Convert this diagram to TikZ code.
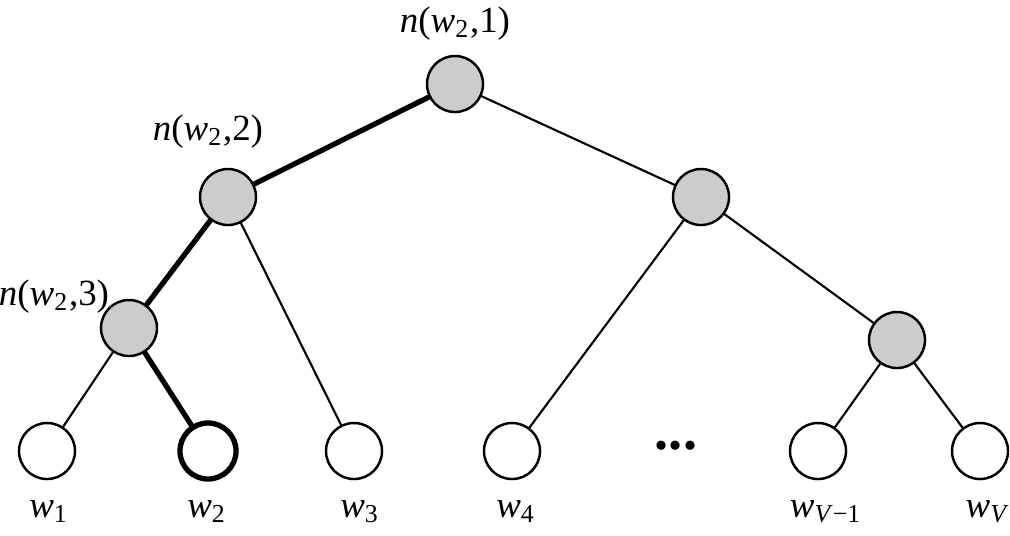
\documentclass[tikz,border=0pt]{standalone}
\usepackage{fontspec}
\setmainfont{Liberation Serif}
\begin{document}
\begin{tikzpicture}[x=0.01cm, y=-0.01cm, font=\fontsize{10.5}{12}\selectfont, line join=round, line cap=round,
	inner/.style={circle, draw, fill=black!20, minimum size=0.56cm, inner sep=0pt, line width=0.7pt},
	leaf/.style={circle, draw, fill=white, minimum size=0.56cm, inner sep=0pt, line width=0.7pt},
	link/.style={line width=0.6pt},
	hot/.style={line width=1.5pt},
	lab/.style={anchor=base, inner sep=0pt}]
		\useasboundingbox (0,0) rectangle (1010,535);
		% inner nodes
		\node[inner] (r) at (455,84) {};
		\node[inner] (a) at (228,197) {};
		\node[inner] (b) at (701,197) {};
		\node[inner] (c) at (129,328) {};
		\node[inner] (d) at (897,340) {};
		% leaves
		\node[leaf] (w1) at (47,451) {};
		\node[leaf, line width=1.5pt] (w2) at (208,451) {};
		\node[leaf] (w3) at (354,451) {};
		\node[leaf] (w4) at (512,451) {};
		\node[leaf] (wv1) at (818,451) {};
		\node[leaf] (wv) at (980,451) {};
		\node[lab, font=\fontsize{16}{18}\selectfont] (dots) at (676,449) {\textbf{...}};
		% edges
		\draw[hot] (r)--(a);
		\draw[hot] (a)--(c);
		\draw[hot] (c)--(w2);
		\draw[link] (r)--(b);
		\draw[link] (a)--(w3);
		\draw[link] (c)--(w1);
		\draw[link] (b)--(w4);
		\draw[link] (b)--(d);
		\draw[link] (d)--(wv1);
		\draw[link] (d)--(wv);
		% labels
		\node[lab] (lr) at (455,32) {\textit{n}(\textit{w}\textsubscript{2},1)};
		\node[lab] (la) at (208,140) {\textit{n}(\textit{w}\textsubscript{2},2)};
		\node[lab] (lc) at (54,305) {\textit{n}(\textit{w}\textsubscript{2},3)};
		\node[lab] (l1) at (49,517) {\textit{w}\textsubscript{1}};
		\node[lab] (l2) at (207,517) {\textit{w}\textsubscript{2}};
		\node[lab] (l3) at (360,517) {\textit{w}\textsubscript{3}};
		\node[lab] (l4) at (516,517) {\textit{w}\textsubscript{4}};
		\node[lab] (lv1) at (826,517) {\textit{w}\textsubscript{\textit{V}−1}};
		\node[lab] (lv) at (988,517) {\textit{w}\textsubscript{\textit{V}}};
\end{tikzpicture}
\end{document}
